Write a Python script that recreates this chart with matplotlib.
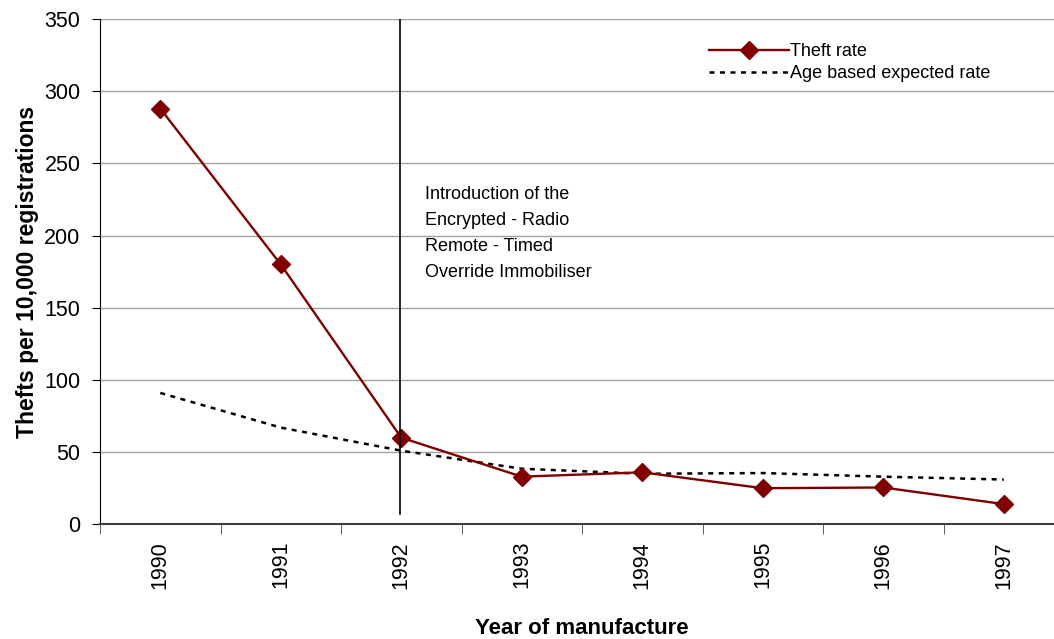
import matplotlib.pyplot as plt

years = ['1990', '1991', '1992', '1993', '1994', '1995', '1996', '1997']
theft_rate = [288, 180, 60, 33, 36, 25, 25.5, 14]
expected_rate = [91, 67, 51, 38.5, 35, 35.5, 33, 31]

plt.rcParams['font.family'] = ['Liberation Sans', 'DejaVu Sans']

fig = plt.figure(figsize=(10.54, 6.39), dpi=100)
ax = fig.add_axes([100 / 1054, 114.7 / 639, 964 / 1054, 505.3 / 639])

x = list(range(len(years)))

for v in range(50, 351, 50):
    ax.axhline(v, color='#a0a0a0', lw=1.0, zorder=0)

ax.plot(x, theft_rate, color='#800000', lw=1.7, marker='D', ms=9,
        label='Theft rate', zorder=3)
ax.plot(x, expected_rate, color='black', lw=1.8, ls=(0, (2, 2.2)),
        label='Age based expected rate', zorder=2)

# immobiliser introduction marker
ax.plot([1.99, 1.99], [7, 350], color='black', lw=1.2, zorder=4)
ax.text(2.2, 234, 'Introduction of the\nEncrypted - Radio\nRemote - Timed\nOverride Immobiliser',
        fontsize=13, va='top', ha='left', linespacing=1.68)

ax.set_xlim(-0.5, 7.5)
ax.set_ylim(0, 350)
ax.set_yticks(range(0, 351, 50))
ax.set_xticks(x)
ax.set_xticklabels(years, rotation=90, fontsize=15.5)
ax.set_xticks([i - 0.5 for i in range(len(years) + 1)], minor=True)
ax.tick_params(axis='x', which='major', length=0, pad=12)
ax.tick_params(axis='x', which='minor', length=7, direction='out', color='#404040')
ax.tick_params(axis='y', labelsize=15.5, length=6, direction='out', pad=8)

for s in ['top', 'right']:
    ax.spines[s].set_visible(False)
ax.spines['bottom'].set_color('#404040')
ax.spines['bottom'].set_linewidth(1.5)

ax.set_xlabel('Year of manufacture', fontsize=16, fontweight='bold', labelpad=21)
ax.set_ylabel('Thefts per 10,000 registrations', fontsize=16.5, fontweight='bold', labelpad=4)

leg = ax.legend(loc='upper left', bbox_to_anchor=(0.615, 0.985), frameon=False,
                fontsize=13, handlelength=4.4, handletextpad=0.1, labelspacing=0.3)

fig.savefig('out.png', dpi=100)
